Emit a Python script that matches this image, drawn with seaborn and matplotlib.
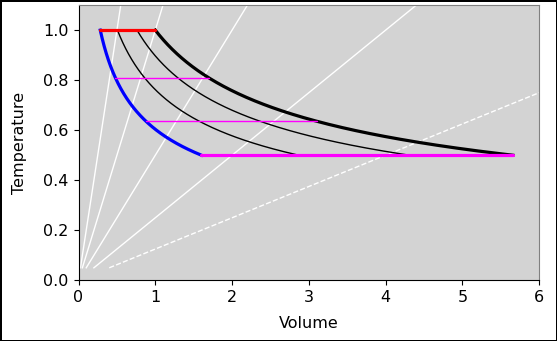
import numpy as np
import pandas as pd
import matplotlib
matplotlib.use("Agg")
import matplotlib.pyplot as plt
import seaborn as sns

# Isobars T = slope * V (last one dashed)
isobar_slopes = [2.0, 1.0, 0.5, 0.25, 0.125]
isobar_styles = ["-", "-", "-", "-", "--"]
isobar_t_start = 0.05

# Adiabats T * V**(gamma-1) = const, starting on the hot isotherm T = 1
gamma = 1.4
adiabat_v0 = [0.283, 0.507, 0.762, 1.0]
adiabat_colors = ["blue", "black", "black", "black"]
adiabat_widths = [2.3, 1.0, 1.0, 2.3]

# Isotherms between the outer adiabats
t_hot = 1.0
t_cold = 0.5
isotherm_levels = [1.0, 0.81, 0.635, 0.5]
isotherm_colors = ["red", "magenta", "magenta", "magenta"]
isotherm_widths = [2.3, 1.0, 1.0, 2.3]

x_ticks = [0, 1, 2, 3, 4, 5, 6]
y_ticks = [0.0, 0.2, 0.4, 0.6, 0.8, 1.0]


def adiabat_volume(v0, t):
    return v0 * (t_hot / t) ** (1.0 / (gamma - 1.0))


plt.rcParams["font.size"] = 11.5

fig = plt.figure(figsize=(5.57, 3.41), dpi=100)
fig.patch.set_edgecolor("black")
fig.patch.set_linewidth(2)
ax = fig.add_axes([0.141, 0.178, 0.827, 0.807])
ax.set_facecolor("lightgray")

for s, ls in zip(isobar_slopes, isobar_styles):
    v = np.linspace(isobar_t_start / s, 7.0, 200)
    df = pd.DataFrame({"V": v, "T": s * v})
    sns.lineplot(data=df, x="V", y="T", ax=ax, color="white", lw=1,
                 linestyle=ls, sort=False)

for v0, c, w in zip(adiabat_v0, adiabat_colors, adiabat_widths):
    t = np.linspace(t_hot, t_cold, 300)
    df = pd.DataFrame({"V": adiabat_volume(v0, t), "T": t})
    sns.lineplot(data=df, x="V", y="T", ax=ax, color=c, lw=w, sort=False)

for tl, c, w in zip(isotherm_levels, isotherm_colors, isotherm_widths):
    v_left = adiabat_volume(adiabat_v0[0], tl)
    v_right = adiabat_volume(adiabat_v0[-1], tl)
    df = pd.DataFrame({"V": [v_left, v_right], "T": [tl, tl]})
    sns.lineplot(data=df, x="V", y="T", ax=ax, color=c, lw=w, sort=False,
                 solid_capstyle="round")

ax.set_xlim(0, 6)
ax.set_ylim(0, 1.1)
ax.set_xticks(x_ticks)
ax.set_yticks(y_ticks)
ax.set_xlabel("Volume", labelpad=8)
ax.set_ylabel("Temperature", labelpad=12)
ax.spines["top"].set_color("gray")
ax.spines["right"].set_color("gray")

fig.savefig("out.png", dpi=100, edgecolor=fig.get_edgecolor())
